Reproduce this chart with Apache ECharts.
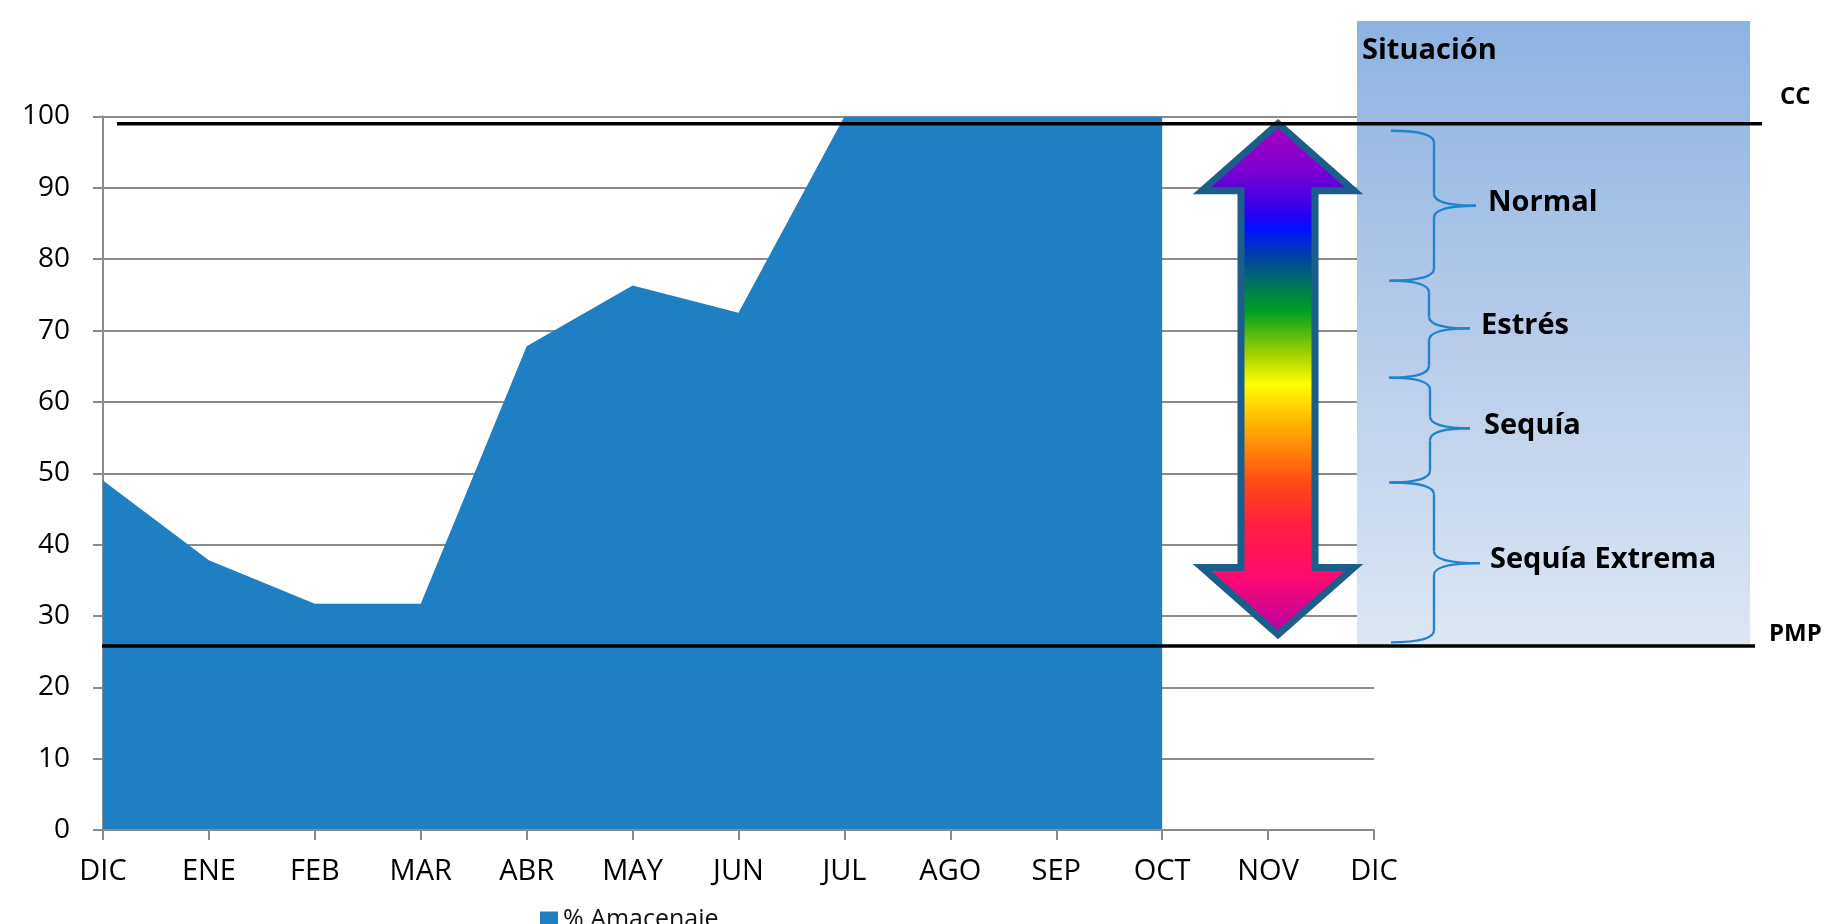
<!DOCTYPE html>
<html>
<head>
<meta charset="utf-8">
<script src="https://cdn.jsdelivr.net/npm/echarts@6/dist/echarts.min.js"></script>
<style>
html,body{margin:0;padding:0;background:#fff;}
#main{width:1826px;height:924px;}
</style>
</head>
<body>
<div id="main"></div>
<script>
// ---- data ----
var months = ['DIC','ENE','FEB','MAR','ABR','MAY','JUN','JUL','AGO','SEP','OCT','NOV','DIC'];
var storage = [49, 37.8, 31.7, 31.7, 67.8, 76.3, 72.5, 100, 100, 100, 100, null, null];
var seriesName = '% Amacenaie';
var ccValue = 99;      // capacidad de campo
var pmpValue = 25.8;   // punto de marchitez permanente
var yTicks = {min: 0, max: 100, interval: 10};
// situation bands (brace ranges, % values)
var bandNames = ['Normal', 'Estrés', 'Sequía', 'Sequía Extrema'];
var bandTop =    [98.0, 77.0, 63.4, 48.7];
var bandBottom = [77.0, 63.4, 48.7, 26.3];
var bandTip =    [87.5, 70.3, 56.3, 37.4];
// arrow extent (% values)
var arrowTop = 99, arrowHeadTop = 89.6, arrowHeadBottom = 36.8, arrowBottom = 27.4;

var FONT = '"Open Sans", "Noto Sans", sans-serif';
var chart = echarts.init(document.getElementById('main'), null, {renderer: 'canvas'});

chart.setOption({
  animation: false,
  backgroundColor: '#ffffff',
  grid: {left: 103, right: 452, top: 116.5, bottom: 94, containLabel: false},
  legend: {
    data: [seriesName], left: 535, top: 902, icon: 'rect',
    itemWidth: 18, itemHeight: 16, itemGap: 4,
    textStyle: {fontFamily: FONT, fontSize: 25, color: '#111', padding: [0,0,0,0]}
  },
  xAxis: {
    type: 'category', data: months, boundaryGap: false,
    axisLine: {lineStyle: {color: '#8a8a8a', width: 2}},
    axisTick: {show: true, length: 10, lineStyle: {color: '#8a8a8a', width: 2}},
    axisLabel: {fontFamily: FONT, fontSize: 29, color: '#000', margin: 27, interval: 0},
    splitLine: {show: false}, z: 3
  },
  yAxis: {
    type: 'value', min: yTicks.min, max: yTicks.max, interval: yTicks.interval,
    axisLine: {show: true, lineStyle: {color: '#8a8a8a', width: 2}},
    axisTick: {show: true, length: 10, lineStyle: {color: '#8a8a8a', width: 2}},
    axisLabel: {fontFamily: FONT, fontSize: 28, color: '#000', margin: 33},
    splitLine: {show: true, lineStyle: {color: '#8c8c8c', width: 2}}
  },
  series: [{
    name: seriesName, type: 'line', data: storage, symbol: 'none',
    lineStyle: {width: 0, color: '#1e7fc2'}, itemStyle: {color: '#1e7fc2'},
    areaStyle: {color: '#1e7fc2', opacity: 1}, connectNulls: false, z: 2
  }]
});

function py(v) { return chart.convertToPixel({yAxisIndex: 0}, v); }

var g = [];
var boxLeft = 1357, boxRight = 1750, boxTop = 21;
var yPMP = py(pmpValue), yCC = py(ccValue);
// Situación box
g.push({type: 'rect', z: 10, shape: {x: boxLeft, y: boxTop, width: boxRight - boxLeft, height: yPMP - boxTop},
  style: {fill: new echarts.graphic.LinearGradient(0, 0, 0, 1, [
    {offset: 0, color: '#8db3e2'}, {offset: 0.5, color: '#b6cbea'}, {offset: 1, color: '#dde7f3'}])}});
g.push({type: 'text', z: 12, x: boxLeft + 5, y: 51,
  style: {text: 'Situación', fontFamily: FONT, fontWeight: 'bold', fontSize: 29, fill: '#000', verticalAlign: 'middle'}});

// Arrow
var cx = 1278, hh = 76, sh = 37;
var yT = py(arrowTop), yHT = py(arrowHeadTop), yHB = py(arrowHeadBottom), yB = py(arrowBottom);
g.push({type: 'polygon', z: 15, shape: {points: [
  [cx, yT], [cx + hh, yHT], [cx + sh, yHT], [cx + sh, yHB], [cx + hh, yHB], [cx, yB],
  [cx - hh, yHB], [cx - sh, yHB], [cx - sh, yHT], [cx - hh, yHT]]},
  style: {stroke: '#1b5e8c', lineWidth: 7, lineJoin: 'miter',
    fill: new echarts.graphic.LinearGradient(0, 0, 0, 1, [
      {offset: 0.0, color: '#b000c0'}, {offset: 0.1, color: '#7a00d0'},
      {offset: 0.18, color: '#2a00ee'}, {offset: 0.21, color: '#0010ff'},
      {offset: 0.28, color: '#00508f'}, {offset: 0.33, color: '#00804a'},
      {offset: 0.37, color: '#00a020'}, {offset: 0.45, color: '#a0d000'},
      {offset: 0.51, color: '#ffff00'}, {offset: 0.59, color: '#ffb000'},
      {offset: 0.7, color: '#ff4a14'}, {offset: 0.78, color: '#ff2040'},
      {offset: 0.88, color: '#ff0a70'}, {offset: 1.0, color: '#b000a8'}])}});

// Braces + labels (layout in pixels, kept separate from data)
var braceLayout = [
  {x0: 1391, xv: 1434, xt: 1476, tx: 1488},
  {x0: 1389, xv: 1429, xt: 1470, tx: 1481},
  {x0: 1389, xv: 1430, xt: 1470, tx: 1484},
  {x0: 1391, xv: 1434, xt: 1480, tx: 1490}
];
var r = 12;
var braceStyle = {stroke: '#1f84cc', lineWidth: 2.4, fill: null};
for (var i = 0; i < bandNames.length; i++) {
  var L = braceLayout[i];
  var t = py(bandTop[i]), b = py(bandBottom[i]), m = py(bandTip[i]);
  g.push({type: 'bezierCurve', z: 13, shape: {x1: L.x0, y1: t, x2: L.xv, y2: t + r, cpx1: L.xv, cpy1: t}, style: braceStyle});
  g.push({type: 'line', z: 13, shape: {x1: L.xv, y1: t + r, x2: L.xv, y2: m - r}, style: braceStyle});
  g.push({type: 'bezierCurve', z: 13, shape: {x1: L.xv, y1: m - r, x2: L.xt, y2: m, cpx1: L.xv, cpy1: m}, style: braceStyle});
  g.push({type: 'bezierCurve', z: 13, shape: {x1: L.xt, y1: m, x2: L.xv, y2: m + r, cpx1: L.xv, cpy1: m}, style: braceStyle});
  g.push({type: 'line', z: 13, shape: {x1: L.xv, y1: m + r, x2: L.xv, y2: b - r}, style: braceStyle});
  g.push({type: 'bezierCurve', z: 13, shape: {x1: L.xv, y1: b - r, x2: L.x0, y2: b, cpx1: L.xv, cpy1: b}, style: braceStyle});
  g.push({type: 'text', z: 13, x: L.tx, y: m - 3,
    style: {text: bandNames[i], fontFamily: FONT, fontWeight: 'bold', fontSize: 29, fill: '#000', verticalAlign: 'middle'}});
}

// CC and PMP lines
g.push({type: 'line', z: 20, shape: {x1: 117, y1: yCC, x2: 1762, y2: yCC}, style: {stroke: '#000', lineWidth: 3.5}});
g.push({type: 'line', z: 20, shape: {x1: 102, y1: yPMP, x2: 1755, y2: yPMP}, style: {stroke: '#000', lineWidth: 3.5}});
g.push({type: 'text', z: 20, x: 1780, y: 97,
  style: {text: 'CC', fontFamily: FONT, fontWeight: 'bold', fontSize: 24, fill: '#000', verticalAlign: 'middle'}});
g.push({type: 'text', z: 20, x: 1769, y: 634,
  style: {text: 'PMP', fontFamily: FONT, fontWeight: 'bold', fontSize: 24, fill: '#000', verticalAlign: 'middle'}});

chart.setOption({graphic: g});
</script>
</body>
</html>
